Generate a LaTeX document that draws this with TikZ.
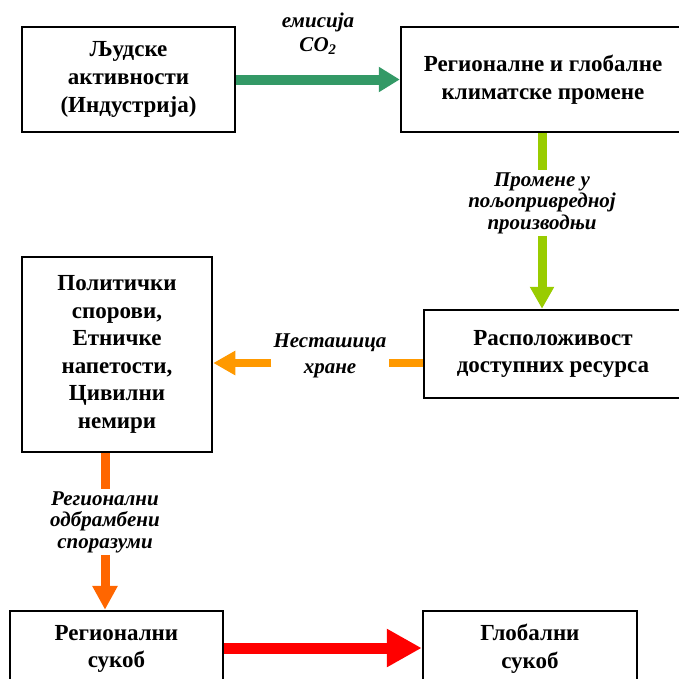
\documentclass[tikz,border=0pt]{standalone}
\usepackage{fontspec}
\setmainfont{Liberation Serif}[Script=Cyrillic,Language=Serbian]
\usepackage{tikz}
\usetikzlibrary{arrows.meta}
\definecolor{emisgreen}{HTML}{339966}
\definecolor{agrilime}{HTML}{99CC00}
\definecolor{foodorange}{HTML}{FF9900}
\definecolor{defnorange}{HTML}{FF6600}
\definecolor{warred}{HTML}{FF0000}
\tikzset{box/.style={draw, line width=2.5pt, align=center, inner sep=0pt,
    font=\bfseries\fontsize{23}{27.6}\selectfont}}
\tikzset{lbl/.style={align=center, inner sep=2pt,
    font=\bfseries\itshape\fontsize{21}{21.5}\selectfont}}
\tikzset{shaft/.style={line width=#1, line cap=butt}}

\begin{document}
\begin{tikzpicture}[x=1pt,y=-1pt]
  \useasboundingbox (0,0) rectangle (679,678);
  \clip (0,0) rectangle (679,678);
  \foreach \x/\y/\w/\h/\lab/\txt in {
    128.5/79.5/213/105/act/{Људске\\активности\\(Индустрија)},
    543/79.5/284/105/clim/{Регионалне и глобалне\\климатске промене},
    553/354/258/88/res/{Расположивост\\доступних ресурса},
    117/354.5/190/195/pol/{Политички\\спорови,\\Етничке\\напетости,\\Цивилни\\немири},
    116.5/649/213/76/reg/{Регионални\\сукоб},
    530/649/214/76/glob/{Глобални\\сукоб}%
  } {
    \node[box, minimum width=\w pt, minimum height=\h pt] (\lab) at (\x, \y) {\txt};
  }
  % labels on the arrows
  \node[lbl] (emis) at (318, 34) {емисија\\[2pt]CO\textsubscript{2}};
  \node[lbl] (agri) at (542, 203) {Промене у\\пољопривредној\\производњи};
  \node[lbl] (food) at (330, 356) {Несташица\\[4pt]хране};
  \node[lbl] (defn) at (105, 522) {Регионални\\одбрамбени\\споразуми};
  \coordinate (foodline) at ([yshift=-9pt]res.west);
  % arrows
  \draw[shaft=10pt, emisgreen, -{Triangle[length=21pt,width=24pt]}] (act) -- (clim);
  \draw[shaft=9pt, agrilime] (clim.south -| agri) -- (agri.north);
  \draw[shaft=9pt, agrilime, -{Triangle[length=22pt,width=23pt]}] (agri.south) -- (res.north -| agri);
  \draw[shaft=8pt, foodorange] (foodline) -- (foodline -| food.east);
  \draw[shaft=8pt, foodorange, -{Triangle[length=22pt,width=23pt]}] (foodline -| food.west) -- (foodline -| pol.east);
  \draw[shaft=9pt, defnorange] (pol.south -| defn) -- (defn.north);
  \draw[shaft=9pt, defnorange, -{Triangle[length=24pt,width=24pt]}] (defn.south) -- (reg.north -| defn);
  \draw[shaft=11pt, warred, -{Triangle[length=35pt,width=36pt]}] ([yshift=1pt]reg.east) -- ([yshift=1pt]glob.west);
\end{tikzpicture}
\end{document}
